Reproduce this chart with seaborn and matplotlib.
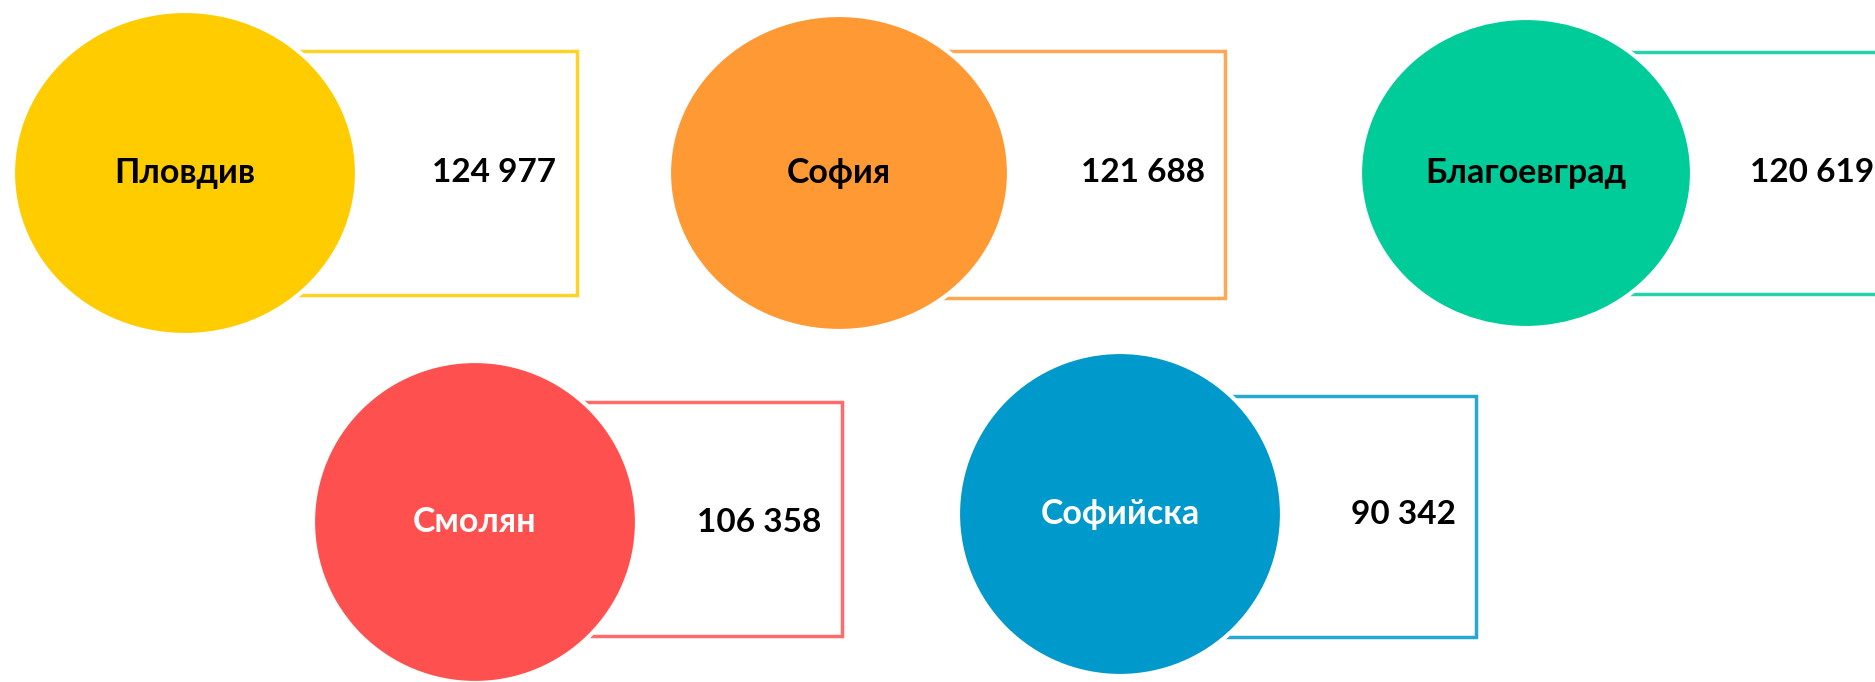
import numpy as np
import pandas as pd
import seaborn as sns
import matplotlib.pyplot as plt
from matplotlib.patches import Ellipse

regions = ['Пловдив', 'София', 'Благоевград', 'Смолян', 'Софийска']
values = [124977, 121688, 120619, 106358, 90342]

# layout (pixels of the 1875x682 canvas)
cx = [185, 839, 1526, 475, 1120]
cy = [173, 173, 173, 522, 514]
rx = [172, 170, 166, 162, 162]
ry = [162, 158, 155, 161, 162]
box_right = [577, 1225, 1900, 842, 1476]
box_top = [51, 51, 52, 402, 396]
box_bottom = [295, 298, 294, 636, 637]
num_x = [494, 1143, 1812, 759, 1403]
colors = ['#FFCC00', '#FF9933', '#00CC99', '#FF5050', '#0099CC']
text_colors = ['black', 'black', 'black', 'white', 'white']

sns.set_theme(style='white')
plt.rcParams['font.family'] = ['Lato', 'DejaVu Sans']

df = pd.DataFrame({'region': regions, 'value': values})
df['label'] = df['value'].map(lambda v: f'{v:,}'.replace(',', ' '))

fig = plt.figure(figsize=(18.75, 6.82), dpi=100)
ax = fig.add_axes([0, 0, 1, 1])
ax.set_xlim(0, 1875)
ax.set_ylim(682, 0)
ax.axis('off')

for i, row in df.iterrows():
    # outlined box, its left side hidden under the ellipse
    xs = [cx[i], box_right[i], box_right[i], cx[i]]
    ys = [box_top[i], box_top[i], box_bottom[i], box_bottom[i]]
    ax.plot(xs, ys, color=colors[i], lw=2.5, alpha=0.85, zorder=1,
            solid_joinstyle='miter')
    ax.add_patch(Ellipse((cx[i], cy[i]), 2 * rx[i], 2 * ry[i],
                         facecolor=colors[i], edgecolor='white', lw=3, zorder=2))
    ax.text(cx[i], cy[i], row['region'], ha='center', va='center',
            fontsize=24.5, fontweight='bold', color=text_colors[i], zorder=3)
    ax.text(num_x[i], cy[i], row['label'], ha='center', va='center',
            fontsize=24, fontweight='bold', color='black', zorder=3)

fig.savefig('out.png', dpi=100, facecolor='white')
